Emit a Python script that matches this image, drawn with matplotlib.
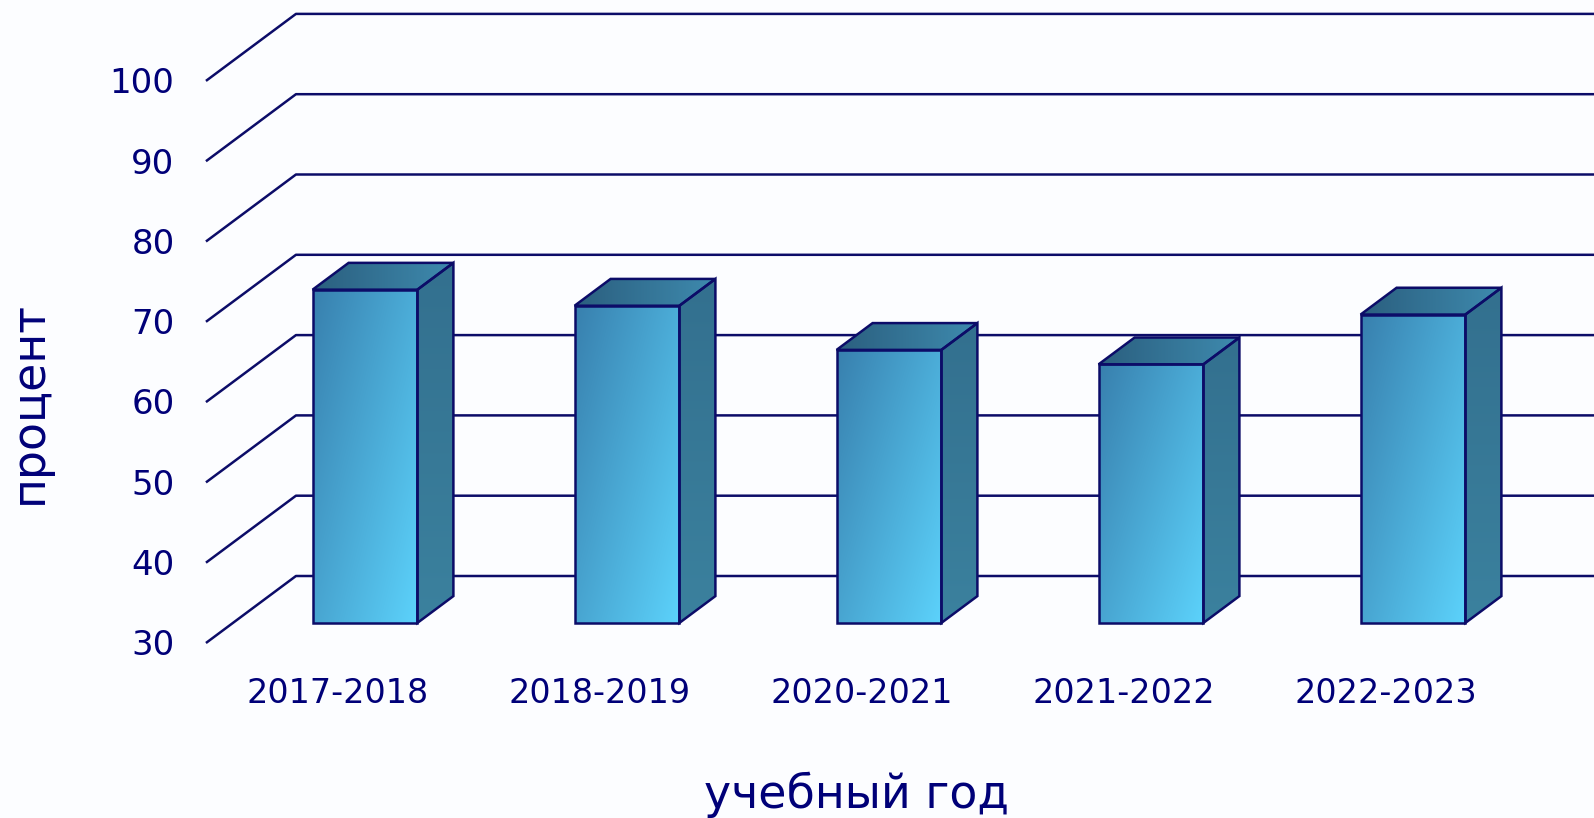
import numpy as np
import matplotlib
matplotlib.use("Agg")
import matplotlib.pyplot as plt
from matplotlib.patches import Polygon
from matplotlib.colors import to_rgb

# data
years = ["2017-2018", "2018-2019", "2020-2021", "2021-2022", "2022-2023"]
percent = [71.5, 69.5, 64.0, 62.2, 68.4]
y_ticks = [30, 40, 50, 60, 70, 80, 90, 100]

navy = "#0c0c68"
text_c = "#000078"
bg = "#fcfdff"

W, H = 1594, 818
fig = plt.figure(figsize=(W / 100, H / 100), dpi=100, facecolor=bg)
ax = fig.add_axes([0, 0, 1, 1])
ax.set_facecolor(bg)
ax.axis("off")

# pseudo-3d layout: category 0 sits at x=338px on the front plane, 262px apart,
# 30% at y=643px, 8.03px per percent
x0, step, y30, ppu = 338, 262, 643, 8.03
xlim = (-x0 / step, (W - x0) / step)
ylim = (30 - (H - y30) / ppu, 30 + y30 / ppu)

# full depth of the box in data units
ddx, ddy = 90 / step, 67 / ppu


def shift(x, y, d):
    return x + d * ddx, y + d * ddy


# walls: left side diagonals + back wall horizontals
x_left = -0.504
for t in y_ticks:
    ax.plot([x_left, x_left + ddx, xlim[1] + 1], [t, t + ddy, t + ddy],
            color=navy, lw=1.8, zorder=1, solid_capstyle="butt")
    ax.text(x_left - 0.12, t - 0.35, str(t), ha="right", va="center",
            fontsize=24.5, color=text_c)


def face(pts, c1, c2, mode):
    poly = Polygon(pts, closed=True, facecolor="none", edgecolor=navy,
                   lw=1.8, zorder=4, joinstyle="miter")
    ax.add_patch(poly)
    xs, ys = zip(*pts)
    n = 64
    u, v = np.meshgrid(np.linspace(0, 1, n), np.linspace(0, 1, n))
    if mode == "diag":
        t = 0.55 * u + 0.45 * (1 - v)
    elif mode == "vert":
        t = 1 - v
    else:
        t = u
    a, b = np.array(to_rgb(c1)), np.array(to_rgb(c2))
    img = a + (b - a) * t[..., None]
    im = ax.imshow(img, extent=[min(xs), max(xs), min(ys), max(ys)],
                   origin="lower", aspect="auto", interpolation="bilinear",
                   zorder=3)
    im.set_clip_path(poly)


bw = 0.40
d0, d1 = 0.30, 0.70
for i, val in enumerate(percent):
    xl, xr = i - bw / 2, i + bw / 2
    fl_b = shift(xl, 30, d0)
    fr_b = shift(xr, 30, d0)
    fl_t = shift(xl, val, d0)
    fr_t = shift(xr, val, d0)
    br_b = shift(xr, 30, d1)
    br_t = shift(xr, val, d1)
    bl_t = shift(xl, val, d1)
    face([fr_b, fr_t, br_t, br_b], "#33708f", "#3b819e", "vert")
    face([fl_t, fr_t, br_t, bl_t], "#2b5f7f", "#3e8aae", "horiz")
    face([fl_b, fl_t, fr_t, fr_b], "#3880ae", "#5cd2fb", "diag")
    ax.text(i, 23.7, years[i], ha="center", va="center", fontsize=24,
            color=text_c)

ax.set_xlim(*xlim)
ax.set_ylim(*ylim)

fig.text(856 / W, 1 - 808 / H, "учебный год", ha="center", va="baseline",
         fontsize=33, color=text_c)
fig.text(29 / W, 1 - 402 / H, "процент", ha="center", va="center",
         rotation=90, fontsize=33, color=text_c)

fig.savefig("out.png", dpi=100, facecolor=bg)
